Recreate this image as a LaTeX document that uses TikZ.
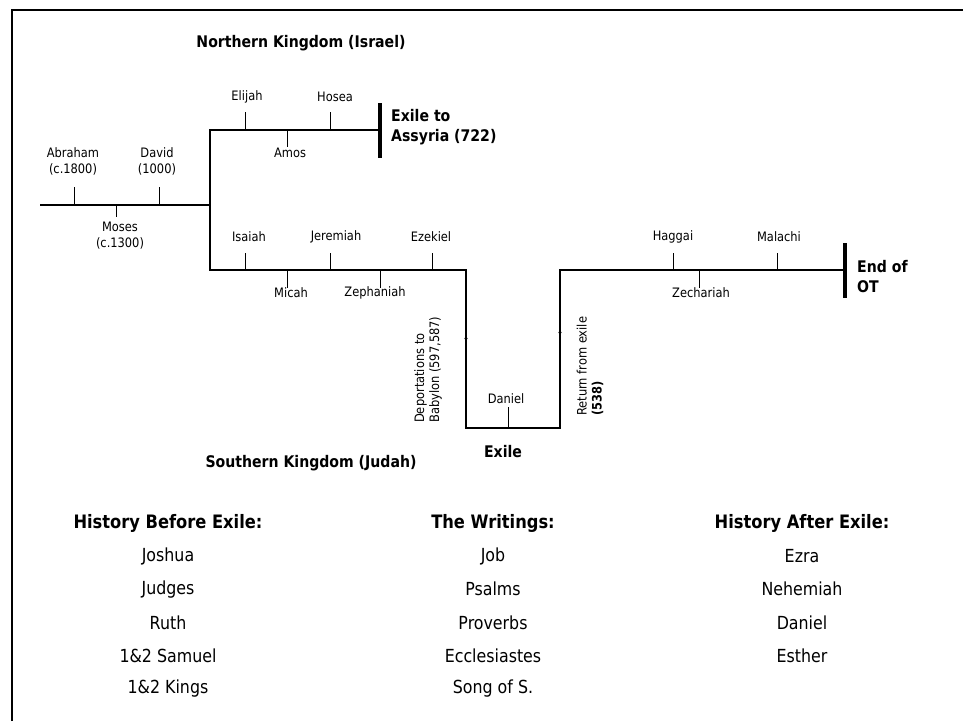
\documentclass[tikz,border=0pt]{standalone}
\usepackage{fontspec}
\setmainfont[FakeStretch=0.88]{DejaVu Sans}
\usetikzlibrary{calc,arrows.meta}

\begin{document}
\begin{tikzpicture}[x=1pt,y=-1pt]

\tikzset{spine/.style={line width=2.7pt,line join=miter},
tick/.style={line width=0.9pt},
endbar/.style={line width=4.5pt},
lbl/.style={font=\fontsize{13}{16}\selectfont,inner sep=0pt,align=center},
boldlbl/.style={font=\fontsize{16}{20}\selectfont\bfseries,inner sep=0pt,align=left,anchor=west},
kingdom/.style={font=\fontsize{16}{20}\selectfont\bfseries,inner sep=0pt},
sidelbl/.style={font=\fontsize{13}{15}\selectfont,inner sep=0pt,align=left,rotate=90,anchor=west},
listhead/.style={font=\fontsize{18.5}{22}\selectfont\bfseries,inner sep=0pt},
book/.style={font=\fontsize{18}{22}\selectfont,inner sep=0pt},
marktip/.style={line width=0.6pt,-{Stealth[length=3pt,width=3.5pt]}}}

\useasboundingbox (0,0) rectangle (963,721);

% Frame
\draw[line width=2pt] (12,721) -- (12,10) -- (963,10);

% Timeline points
\coordinate (start) at (40,205);
\coordinate (fork) at (210,205);
\coordinate (ntop) at (210,130);
\coordinate (nend) at (380,130);
\coordinate (sbot) at (210,270);
\coordinate (send) at (466,270);
\coordinate (dbot) at (466,428);
\coordinate (ubot) at (560,428);
\coordinate (utop) at (560,270);
\coordinate (eend) at (845,270);

\draw[spine] (start) -- (fork);
\draw[spine] (nend) -- (ntop) -- (sbot) -- (send) -- (dbot) -- (ubot) -- (utop) -- (eend);

% End bars
\draw[endbar] ($(nend)+(0,-27)$) -- ($(nend)+(0,28)$);
\draw[endbar] ($(eend)+(0,-27)$) -- ($(eend)+(0,28)$);

% Direction marks
\coordinate (dm1) at (466,334); \coordinate (dm2) at (466,341);
\coordinate (um1) at (560,337); \coordinate (um2) at (560,330);
\draw[marktip] (dm1) -- (dm2);
\draw[marktip] (um1) -- (um2);

% Tick marks (up and down)
\foreach \x in {74,159} \draw[tick] (\x,205) -- ++(0,-18);
\draw[tick] (116,205) -- ++(0,12);
\foreach \x in {245,330} \draw[tick] (\x,130) -- ++(0,-18);
\draw[tick] (287,130) -- ++(0,17);
\foreach \x in {245,330,432,673,777} \draw[tick] (\x,270) -- ++(0,-17);
\foreach \x in {287,380,699} \draw[tick] (\x,270) -- ++(0,18);
\draw[tick] (508,428) -- ++(0,-21);

% Names on the timeline
\node[lbl] (abraham) at (73,161) {Abraham\\(c.1800)};
\node[lbl] (david) at (157,161) {David\\(1000)};
\node[lbl] (moses) at (120,236) {Moses\\(c.1300)};
\node[lbl] (elijah) at (247,97) {Elijah};
\node[lbl] (hosea) at (335,97) {Hosea};
\node[lbl] (amos) at (290,153) {Amos};
\node[lbl] (isaiah) at (249,237) {Isaiah};
\node[lbl] (jeremiah) at (336,237) {Jeremiah};
\node[lbl] (ezekiel) at (431,237) {Ezekiel};
\node[lbl] (micah) at (291,293) {Micah};
\node[lbl] (zephaniah) at (375,293) {Zephaniah};
\node[lbl] (haggai) at (673,237) {Haggai};
\node[lbl] (malachi) at (779,237) {Malachi};
\node[lbl] (zechariah) at (701,293) {Zechariah};
\node[lbl] (daniel) at (506,399) {Daniel};

% Bold captions
\node[kingdom] (north) at (301,43) {Northern Kingdom (Israel)};
\node[kingdom] (south) at (311,463) {Southern Kingdom (Judah)};
\node[kingdom] (exile) at (503,452) {Exile};
\node[boldlbl] (assyria) at (391,127) {Exile to\\Assyria (722)};
\node[boldlbl] (endot) at (857,277) {End of\\OT};

% Rotated captions
\node[sidelbl] (deport) at (428,423) {Deportations to\\Babylon (597,587)};
\node[sidelbl] (return) at (590,416) {Return from exile\\\textbf{(538)}};

% Book lists
\node[listhead] (before) at (168,523) {History Before Exile:};
\node[listhead] (writings) at (493,523) {The Writings:};
\node[listhead] (after) at (802,523) {History After Exile:};
\foreach \t [count=\i] in {Joshua,Judges,Ruth,1\&2 Samuel,1\&2 Kings}
  \node[book] (hb\i) at (168,522.8+33.2*\i) {\t};
\foreach \t [count=\i] in {Job,Psalms,Proverbs,Ecclesiastes,Song of S.}
  \node[book] (wr\i) at (493,522.8+33.2*\i) {\t};
\foreach \t [count=\i] in {Ezra,Nehemiah,Daniel,Esther}
  \node[book] (ha\i) at (802,522.8+33.2*\i) {\t};

\end{tikzpicture}
\end{document}
